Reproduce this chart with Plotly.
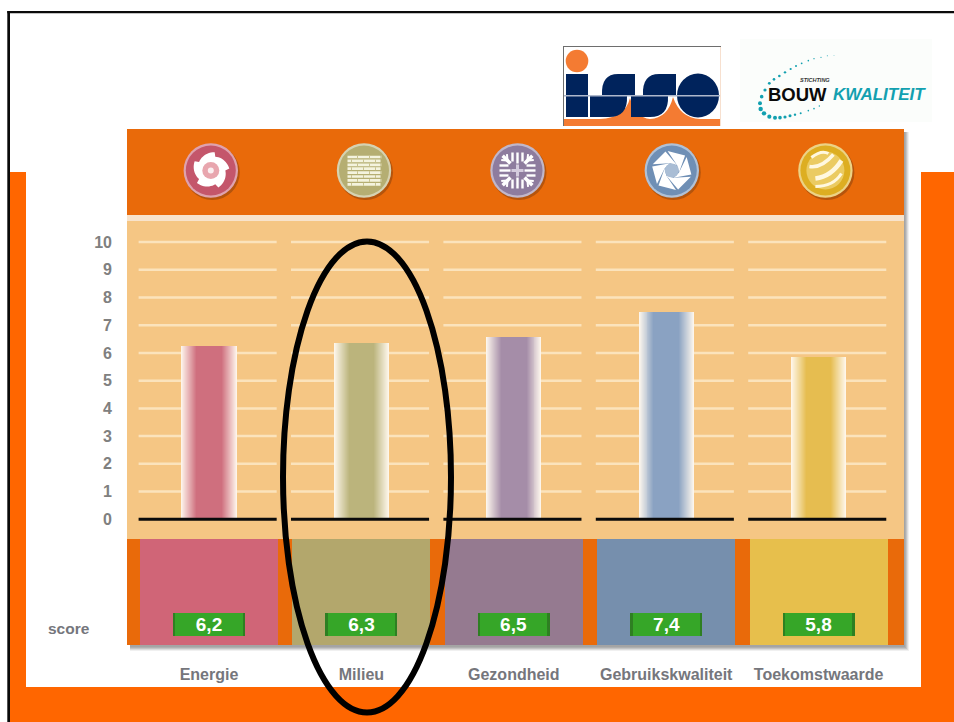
import math
import plotly.graph_objects as go

categories = ["Energie", "Milieu", "Gezondheid", "Gebruikskwaliteit", "Toekomstwaarde"]
scores = [6.2, 6.3, 6.5, 7.4, 5.8]
score_labels = ["6,2", "6,3", "6,5", "7,4", "5,8"]
y_ticks = [0, 1, 2, 3, 4, 5, 6, 7, 8, 9, 10]
bar_colors = ["#CF6F7E", "#BBB47C", "#A58DA8", "#8AA2C2", "#E6BD50"]
panel_colors = ["#D06577", "#B3A76C", "#957A90", "#768FAD", "#E7BF4C"]
icon_colors = ["#C4566B", "#B5AE72", "#8E7C9E", "#6F8FB5", "#DDAE22"]

W, H = 954, 722
AX_L, AX_R, AX_T, AX_B = 127, 904, 129, 645
PX_X = 152.4
PX_Y = 27.73
Y0 = 519.3


def X(p):
    return p / W


def Y(p):
    return 1 - p / H


def rect(x0, y0, x1, y1, color, layer="below"):
    return dict(type="rect", xref="paper", yref="paper", x0=X(x0), x1=X(x1), y0=Y(y0), y1=Y(y1),
                fillcolor=color, line=dict(width=0), layer=layer)


def circle(cx, cy, rx, color, ry=None, line=None, lw=0, layer="above"):
    ry = rx if ry is None else ry
    return dict(type="circle", xref="paper", yref="paper", x0=X(cx - rx), x1=X(cx + rx), y0=Y(cy + ry), y1=Y(cy - ry),
                fillcolor=color, line=dict(color=line or "rgba(0,0,0,0)", width=lw), layer=layer)


def path(cmds, fill="rgba(0,0,0,0)", line=None, lw=0, layer="above"):
    out = []
    for c in cmds:
        if isinstance(c, str):
            out.append(c)
        else:
            out.append(f"{X(c[0]):.5f},{Y(c[1]):.5f}")
    return dict(type="path", xref="paper", yref="paper", path=" ".join(out), fillcolor=fill,
                line=dict(color=line or "rgba(0,0,0,0)", width=lw), layer=layer)


def poly(pts, fill, layer="above"):
    cmds = []
    for i, p in enumerate(pts):
        cmds += ["M" if i == 0 else "L", p]
    cmds.append("Z")
    return path(cmds, fill=fill, layer=layer)


def seg(x0, y0, x1, y1, color, lw):
    return path(["M", (x0, y0), "L", (x1, y1)], line=color, lw=lw)


def mix(a, b, t):
    ca = [int(a[i:i + 2], 16) for i in (1, 3, 5)]
    cb = [int(b[i:i + 2], 16) for i in (1, 3, 5)]
    return "#" + "".join(f"{round(x + (y - x) * t):02x}" for x, y in zip(ca, cb))


shapes = []
# page frame and orange surround
shapes += [
    rect(10, 172, 26, 722, "#FF6600"),
    rect(921, 172, 954, 722, "#FF6600"),
    rect(10, 687, 954, 722, "#FF6600"),
    rect(7.3, 11, 954, 13.3, "#0A0A0A"),
    rect(7.3, 11, 10, 722, "#0A0A0A"),
]
# chart panel with soft shadow
for off, col in ((6, "#F0F0F0"), (5, "#DCDCDC"), (4, "#C4C4C4"), (3, "#B0B0B0"), (2, "#A4A4A4")):
    shapes.append(rect(AX_L + 3, AX_T + 3, AX_R + off - 1, AX_B + off, col))
shapes += [
    rect(AX_L, AX_T, AX_R, AX_B, "#E96A0A"),
    rect(AX_L, 215, AX_R, 221, "#F8E3CB"),
    rect(AX_L, 221, AX_R, 539, "#F5C684"),
]
# gridlines follow the y axis
for t in y_ticks:
    for i in range(len(categories)):
        shapes.append(dict(type="line", xref="x", yref="y", x0=i - 0.462, x1=i + 0.444, y0=t, y1=t,
                           line=dict(color="#0A0A0A" if t == 0 else "#FBE3BC", width=3 if t == 0 else 2.5),
                           layer="above" if t == 0 else "below"))

# ISSO logo
shapes += [
    rect(563, 46, 720, 126, "#FFFFFF"),
    rect(720, 46, 721, 126, "#F7E0CF"),
    rect(563, 46, 721, 47, "#6E6E6E"),
    rect(563, 46, 564, 126, "#6E6E6E"),
    path(["M", (564, 126), "L", (564, 119), "L", (600, 119), "Q", (625, 118), (630, 98), "Q", (636, 118), (650, 119),
          "Q", (668, 118), (673, 97), "Q", (680, 118), (700, 119), "L", (720, 119), "L", (720, 126), "Z"],
         fill="#F47B32"),
    circle(577, 61, 11.3, "#F47B32"),
    rect(566, 74, 588, 117, "#00235C", "above"),
]
for dx in (0, 41):
    shapes.append(path(["M", (602 + dx, 95), "Q", (601 + dx, 74), (618 + dx, 74), "L", (635 + dx, 74), "L", (635 + dx, 95), "Z"],
                       fill="#00235C"))
    shapes.append(path(["M", (590 + dx, 96), "L", (627 + dx, 96), "Q", (628 + dx, 117), (609 + dx, 117), "L", (590 + dx, 117), "Z"],
                       fill="#00235C"))
shapes.append(circle(698, 95.5, 21, "#00235C", ry=22))
shapes.append(rect(564, 95, 720, 96.4, "#AEB8CC", "above"))

# Bouwkwaliteit logo
shapes.append(rect(740, 39, 932, 122, "#FBFDFB"))
dots = [(282, 46, .4), (262, 47, .5), (243, 52, .6), (222, 56, .7), (205, 62, .8), (185, 70, .9), (168, 78, 1), (152, 87, 1.1),
        (135, 97, 1.2), (118, 108, 1.3), (102, 118, 1.3), (88, 130, 1.4), (75, 150, 1.6), (65, 170, 1.8), (60, 190, 2),
        (62, 207, 2.2), (72, 220, 2.2), (88, 230, 2.1), (105, 233, 2), (120, 233, 1.8), (135, 231, 1.6), (150, 227, 1.5),
        (165, 224, 1.2), (182, 220, 1), (205, 212, .8), (222, 206, .8), (238, 198, .7)]
for dx, dy, r in dots:
    shapes.append(circle(740 + dx / 3, 40 + dy / 3, r, "#12A0B0"))

# icons in the header band
icon_x = [210.8, 364, 517.5, 671.8, 825.4]
icon_y = 170.5
for cx, col in zip(icon_x, icon_colors):
    shapes.append(circle(cx + 1.5, icon_y + 2, 27.5, "#B5540C"))
    shapes.append(circle(cx, icon_y, 27.2, mix(col, "#FFFFFF", 0.45)))
    shapes.append(circle(cx, icon_y, 25, col))

# icon 1: rotor
cx = icon_x[0]
pts = []
for k in range(60):
    a = 2 * math.pi * k / 60
    saw = (k % 12) / 12
    r = 14.5 + 4.5 * saw
    pts.append((cx + r * math.cos(a), icon_y + r * math.sin(a)))
shapes.append(poly(pts, "#FFFFFF"))
shapes.append(circle(cx, icon_y, 8.5, "#E8A6AE"))
shapes.append(circle(cx, icon_y, 3, "#FBEFF0"))

# icon 2: brick wall
cx = icon_x[1]
for row in range(8):
    ry = 157 + row * 3.9
    shapes.append(seg(cx - 16.5, ry, cx + 16.5, ry, "#F4F3DE", 2.7))
    off = 0 if row % 2 else 6
    for b in (-12, 0, 12):
        shapes.append(seg(cx + b + off - 0.5, ry - 1.5, cx + b + off - 0.5, ry + 1.5, "#C9C391", 1))

# icon 3: snowflake
cx = icon_x[2]
for k in range(4):
    a = k * math.pi / 2
    ca, sa = math.cos(a), math.sin(a)
    for o in (-5, 0, 5):
        r0 = 7 if o == 0 else 9
        shapes.append(seg(cx + r0 * ca - o * sa, icon_y + r0 * sa + o * ca,
                          cx + 18 * ca - o * sa, icon_y + 18 * sa + o * ca, "#FFFFFF", 2.4))
    a2 = a + math.pi / 4
    c2, s2 = math.cos(a2), math.sin(a2)
    shapes.append(seg(cx + 10 * c2, icon_y + 10 * s2, cx + 21 * c2, icon_y + 21 * s2, "#FFFFFF", 3.5))
    for sign in (-1, 1):
        shapes.append(seg(cx + 19 * c2 - sign * 4 * s2, icon_y + 19 * s2 + sign * 4 * c2,
                          cx + 14 * c2, icon_y + 14 * s2, "#FFFFFF", 2))
shapes.append(seg(cx - 6, icon_y, cx + 6, icon_y, "#D4CBDD", 3))
shapes.append(seg(cx, icon_y - 6, cx, icon_y + 6, "#D4CBDD", 3))

# icon 4: aperture
cx = icon_x[3]
R, r_in = 20, 7.5
for k in range(6):
    a0 = math.radians(60 * k + 15)
    a1 = math.radians(60 * (k + 1) + 15)
    o0 = (cx + R * math.cos(a0 + .05), icon_y + R * math.sin(a0 + .05))
    o1 = (cx + R * math.cos(a1 - .06), icon_y + R * math.sin(a1 - .06))
    i0 = (cx + r_in * math.cos(a0 + 1.05), icon_y + r_in * math.sin(a0 + 1.05))
    i1 = (cx + r_in * math.cos(a1 + 1.05), icon_y + r_in * math.sin(a1 + 1.05))
    shapes.append(poly([o0, o1, i1, i0], "#FFFFFF"))
shapes.append(circle(cx, icon_y, 7, "#A9BDD5"))

# icon 5: striped sphere
cx = icon_x[4]
shapes.append(circle(cx, icon_y, 19, "#EBCB62"))
for (x0, y0, qx, qy, x1, y1, lw) in [(-14, -13, -4, -21, 3, -17, 3), (-16, -4, -4, -2, 8, -16, 3.5),
                                     (-10, 8, 6, 6, 16, -10, 4.5), (-10, 16, 8, 16, 16, 3, 3)]:
    shapes.append(path(["M", (cx + x0, icon_y + y0), "Q", (cx + qx, icon_y + qy), (cx + x1, icon_y + y1)],
                       line="#FFF8E0", lw=lw))

# the hand drawn ellipse
shapes.append(circle(367, 477, 84, "rgba(0,0,0,0)", ry=235.5, line="#000000", lw=6))

fig = go.Figure()
# coloured score panels
fig.add_trace(go.Bar(x=categories, y=[3.83] * 5, base=-4.53, width=0.905, marker=dict(color=panel_colors, line=dict(width=0)),
                     hoverinfo="skip", showlegend=False))
# score plates
fig.add_trace(go.Bar(x=categories, y=[0.84] * 5, base=-4.21, width=0.472, marker=dict(color="#2E7F22", line=dict(width=0)),
                     hoverinfo="skip", showlegend=False))
fig.add_trace(go.Bar(x=categories, y=[0.84] * 5, base=-4.21, width=0.44, marker=dict(color="#36A628", line=dict(width=0)),
                     text=score_labels, textposition="inside", insidetextanchor="middle", constraintext="none",
                     textfont=dict(family="Liberation Sans", size=19, color="#FFFFFF", weight="bold"),
                     hoverinfo="skip", showlegend=False))
# score columns: stacked strips of narrowing width give the cylinder shading
LAYERS = 28
FULL_W = 0.362
for k in range(LAYERS):
    t = min(1.0, (k + 0.5) / (LAYERS * 0.55))
    cols = [mix("#FFF8EE", c, t) for c in bar_colors]
    fig.add_trace(go.Bar(x=categories, y=scores, base=0.06, width=FULL_W * (1 - k / LAYERS),
                         marker=dict(color=cols, line=dict(width=0)), hoverinfo="skip", showlegend=False))

annotations = [
    dict(text="<b>score</b>", xref="paper", yref="paper", x=X(69), y=Y(628.5), showarrow=False, xanchor="center", yanchor="middle",
         font=dict(family="Liberation Sans", size=15.5, color="#75767C")),
    dict(text="<b>BOUW</b>", xref="paper", yref="paper", x=X(797), y=Y(95), showarrow=False, xanchor="center", yanchor="middle",
         font=dict(family="Liberation Sans", size=18.5, color="#0A0A0A")),
    dict(text="<b><i>KWALITEIT</i></b>", xref="paper", yref="paper", x=X(879), y=Y(95), showarrow=False, xanchor="center", yanchor="middle",
         font=dict(family="Liberation Sans", size=17, color="#12A0B0")),
    dict(text="<b><i>STICHTING</i></b>", xref="paper", yref="paper", x=X(815), y=Y(80), showarrow=False, xanchor="center", yanchor="middle",
         font=dict(family="Liberation Sans", size=5.5, color="#333333")),
]

fig.update_layout(
    width=W, height=H, autosize=False, margin=dict(l=0, r=0, t=0, b=0),
    paper_bgcolor="#FFFFFF", plot_bgcolor="rgba(0,0,0,0)", barmode="overlay", bargap=0,
    shapes=shapes, annotations=annotations, showlegend=False,
    xaxis=dict(domain=[X(AX_L), X(AX_R)], type="category", categoryorder="array", categoryarray=categories,
               range=[(AX_L - 209) / PX_X, (AX_R - 209) / PX_X], showgrid=False, zeroline=False, showline=False, ticks="",
               tickfont=dict(family="Liberation Sans", size=16, color="#75767C", weight="bold"), ticklabelstandoff=18, fixedrange=True),
    yaxis=dict(domain=[Y(AX_B), Y(AX_T)], range=[(Y0 - AX_B) / PX_Y, (Y0 - AX_T) / PX_Y], tickmode="array", tickvals=y_ticks,
               showgrid=False, zeroline=False, showline=False, ticks="",
               tickfont=dict(family="Liberation Sans", size=16, color="#808080", weight="bold"), ticklabelstandoff=14, fixedrange=True),
)
fig.write_html("out.html", config=dict(displayModeBar=False),
               post_script="document.body.style.margin='0';document.documentElement.style.overflow='hidden';")
